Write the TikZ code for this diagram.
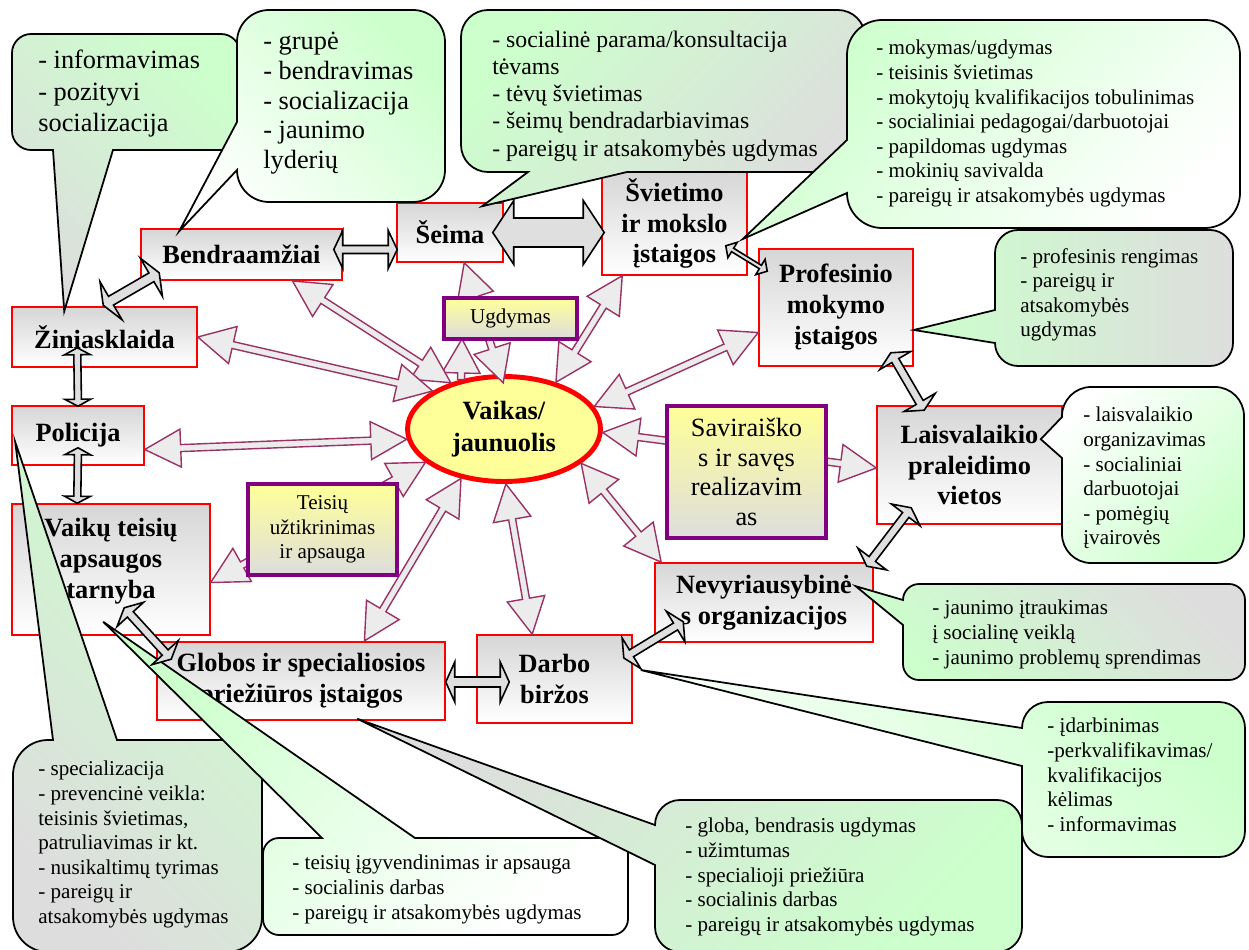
\documentclass[tikz,border=0pt]{standalone}
\usepackage{fontspec}
\setmainfont{Liberation Serif}
\usetikzlibrary{calc,shapes.geometric}

\definecolor{boxred}{RGB}{255,0,0}
\definecolor{boxpurple}{RGB}{128,0,128}
\definecolor{arrowplum}{RGB}{153,51,102}
\definecolor{lightyel}{RGB}{255,255,153}
\definecolor{callgreen}{RGB}{204,255,204}
\definecolor{callgray}{RGB}{221,221,221}
\definecolor{boxgray}{RGB}{214,214,214}

\tikzset{
    redbox/.style={draw=boxred, line width=0.9pt, top color=boxgray, bottom color=white,
        inner sep=0pt, align=center, font=\fontsize{15}{17.6}\selectfont\bfseries},
    purplebox/.style={draw=boxpurple, line width=2.3pt, top color=lightyel, bottom color=callgray,
        inner sep=0pt, align=center, font=\fontsize{12}{14}\selectfont},
    kidellipse/.style={ellipse, draw=boxred, line width=2.8pt, fill=lightyel, inner sep=0pt,
        align=center, font=\fontsize{15}{18}\selectfont\bfseries},
    plumarrow/.style={draw=arrowplum, fill=gray!15, line width=0.8pt},
    blkarrow/.style={draw=black, fill=gray!25, line width=0.9pt},
    callout/.style={draw=black, line width=1pt},
    calltext/.style={anchor=north west, inner sep=0pt, align=left,
        font=\fontsize{12}{14}\selectfont, execute at begin node=\rule{0pt}{0.7em}},
}

\begin{document}
\begin{tikzpicture}[x=0.02cm, y=-0.02cm]
            \useasboundingbox (0,0) rectangle (1249,950);
            \newcommand\dblarrow[6]{% {<from>}{<to>}{<shaft>}{<head>}{<head-length>}{<style>}
                \path #1 coordinate (arr-a) #2 coordinate (arr-b);
                \pgfpointdiff{\pgfpointanchor{arr-a}{center}}{\pgfpointanchor{arr-b}{center}}
                \pgfgetlastxy{\arrdx}{\arrdy}
                \pgfmathsetmacro\arrang{atan2(\arrdy,\arrdx)}
                \pgfmathsetmacro\arrlen{veclen(\arrdx,\arrdy)/0.569055}
                \draw[#6, shift={(arr-a)}, rotate=\arrang, x=0.02cm, y=0.02cm]
                    (0,0) -- (#5,#4) -- (#5,#3) -- (\arrlen-#5,#3) -- (\arrlen-#5,#4) -- (\arrlen,0)
                    -- (\arrlen-#5,-#4) -- (\arrlen-#5,-#3) -- (#5,-#3) -- (#5,-#4) -- cycle;
            }
            \newcommand\sglarrow[6]{% {<from>}{<to>}{<shaft>}{<head>}{<head-length>}{<style>}
                \path #1 coordinate (arr-a) #2 coordinate (arr-b);
                \pgfpointdiff{\pgfpointanchor{arr-a}{center}}{\pgfpointanchor{arr-b}{center}}
                \pgfgetlastxy{\arrdx}{\arrdy}
                \pgfmathsetmacro\arrang{atan2(\arrdy,\arrdx)}
                \pgfmathsetmacro\arrlen{veclen(\arrdx,\arrdy)/0.569055}
                \draw[#6, shift={(arr-a)}, rotate=\arrang, x=0.02cm, y=0.02cm]
                    (0,#3) -- (\arrlen-#5,#3) -- (\arrlen-#5,#4) -- (\arrlen,0)
                    -- (\arrlen-#5,-#4) -- (\arrlen-#5,-#3) -- (0,-#3) -- cycle;
            }
            \newcommand\calloutB[9]{% {<x1>}{<y1>}{<x2>}{<y2>}{<radius>}{<base-a>}{<base-b>}{<tip>}{<style>}
                \draw[#9] (#1+#5,#2) -- (#3-#5,#2) .. controls (#3-0.45*#5,#2) and (#3,#2+0.45*#5) .. (#3,#2+#5)
                    -- (#3,#4-#5) .. controls (#3,#4-0.45*#5) and (#3-0.45*#5,#4) .. (#3-#5,#4)
                    -- (#7,#4) -- #8 -- (#6,#4)
                    -- (#1+#5,#4) .. controls (#1+0.45*#5,#4) and (#1,#4-0.45*#5) .. (#1,#4-#5)
                    -- (#1,#2+#5) .. controls (#1,#2+0.45*#5) and (#1+0.45*#5,#2) .. (#1+#5,#2) -- cycle;
            }
            \newcommand\calloutL[9]{% {<x1>}{<y1>}{<x2>}{<y2>}{<radius>}{<base-a>}{<base-b>}{<tip>}{<style>}
                \draw[#9] (#1+#5,#2) -- (#3-#5,#2) .. controls (#3-0.45*#5,#2) and (#3,#2+0.45*#5) .. (#3,#2+#5)
                    -- (#3,#4-#5) .. controls (#3,#4-0.45*#5) and (#3-0.45*#5,#4) .. (#3-#5,#4)
                    -- (#1+#5,#4) .. controls (#1+0.45*#5,#4) and (#1,#4-0.45*#5) .. (#1,#4-#5)
                    -- (#1,#7) -- #8 -- (#1,#6)
                    -- (#1,#2+#5) .. controls (#1,#2+0.45*#5) and (#1+0.45*#5,#2) .. (#1+#5,#2) -- cycle;
            }
            \newcommand\calloutT[9]{% {<x1>}{<y1>}{<x2>}{<y2>}{<radius>}{<base-a>}{<base-b>}{<tip>}{<style>}
                \draw[#9] (#1+#5,#2) -- (#6,#2) -- #8 -- (#7,#2)
                    -- (#3-#5,#2) .. controls (#3-0.45*#5,#2) and (#3,#2+0.45*#5) .. (#3,#2+#5)
                    -- (#3,#4-#5) .. controls (#3,#4-0.45*#5) and (#3-0.45*#5,#4) .. (#3-#5,#4)
                    -- (#1+#5,#4) .. controls (#1+0.45*#5,#4) and (#1,#4-0.45*#5) .. (#1,#4-#5)
                    -- (#1,#2+#5) .. controls (#1,#2+0.45*#5) and (#1+0.45*#5,#2) .. (#1+#5,#2) -- cycle;
            }

            % institutions
            \node[redbox, minimum width=4.02cm, minimum height=1.02cm] (bendr) at (241.5,254.5) {Bendraamžiai};
            \node[redbox, minimum width=2.12cm, minimum height=1.18cm] (seima) at (450,232.5) {Šeima};
            \node[redbox, minimum width=2.90cm, minimum height=2.06cm] (svietimo) at (674.5,223.5) {Švietimo\\ir mokslo\\įstaigos};
            \node[redbox, minimum width=3.08cm, minimum height=2.34cm] (profes) at (836,307.5) {Profesinio\\mokymo\\įstaigos};
            \node[redbox, minimum width=3.70cm, minimum height=1.20cm] (zinias) at (104.5,337) {Žiniasklaida};
            \node[redbox, minimum width=2.64cm, minimum height=1.18cm] (polic) at (78,435.5) {Policija};
            \node[redbox, minimum width=3.96cm, minimum height=2.62cm, text depth=13pt] (vaikut) at (111,569.5) {Vaikų teisių\\apsaugos\\tarnyba};
            \node[redbox, minimum width=5.76cm, minimum height=1.56cm] (globos) at (301,681) {Globos ir specialiosios\\priežiūros įstaigos};
            \node[redbox, minimum width=3.10cm, minimum height=1.76cm] (darbo) at (554.5,679) {Darbo\\biržos};
            \node[redbox, minimum width=4.36cm, minimum height=1.58cm] (nevyr) at (764,602.5) {Nevyriausybinė\\s organizacijos};
            \node[redbox, minimum width=3.70cm, minimum height=2.36cm] (laisv) at (969.5,465) {Laisvalaikio\\praleidimo\\vietos};
            \node[kidellipse, minimum width=3.86cm, minimum height=2.10cm] (vaikas) at (504,429) {Vaikas/\\jaunuolis};

            % links to the child
            \coordinate (ugdtip) at (462,339);
            \sglarrow{(vaikas.131)}{(ugdtip)}{3.5}{19}{34}{plumarrow}
            \dblarrow{(vaikas.139)}{($(bendr.south west)+(152,0)$)}{3.5}{19}{36}{plumarrow}
            \dblarrow{($(vaikas.center)!0.84!(vaikas.91)$)}{($(seima.south west)+(68,0)$)}{3.5}{19}{36}{plumarrow}
            \dblarrow{(vaikas.152)}{(zinias.east)}{3.5}{19}{36}{plumarrow}
            \dblarrow{(vaikas.186)}{($(polic.east)+(0,14)$)}{3.5}{19}{36}{plumarrow}
            \dblarrow{(vaikas.203)}{($(vaikut.east)+(0,13)$)}{3.5}{19}{36}{plumarrow}
            \dblarrow{(vaikas.229)}{($(globos.north west)+(208,0)$)}{3.5}{19}{36}{plumarrow}
            \dblarrow{(vaikas.272)}{($(darbo.north west)+(56,0)$)}{3.5}{19}{36}{plumarrow}
            \dblarrow{(vaikas.336)}{($(nevyr.north west)+(7,0)$)}{3.5}{19}{36}{plumarrow}
            \dblarrow{(vaikas.358)}{($(laisv.west)+(0,3)$)}{3.5}{19}{36}{plumarrow}
            \dblarrow{(vaikas.14)}{($(profes.west)+(0,25)$)}{3.5}{19}{36}{plumarrow}
            \dblarrow{(vaikas.42)}{($(svietimo.south west)+(21,0)$)}{3.5}{19}{36}{plumarrow}

            \node[purplebox, minimum width=2.66cm, minimum height=0.82cm] (ugdym) at (510.5,318.5) {Ugdymas};
            \node[purplebox, minimum width=2.98cm, minimum height=1.82cm] (teisiu) at (322.5,529.5) {Teisių\\užtikrinimas\\ir apsauga};
            \node[purplebox, minimum width=3.18cm, minimum height=2.64cm, font=\fontsize{15}{17}\selectfont] (savir) at (746.5,472) {Saviraiško\\s ir savęs\\realizavim\\as};

            % callouts
            \calloutB{12}{34}{240}{150}{19}{53}{113}{($(zinias.north west)+(53,5)$)}{callout, top color=callgreen, bottom color=callgray, shading angle=-45}
            \node[calltext, font=\fontsize{15}{18}\selectfont] (txtinfo) at (38,49.5) {- informavimas\\- pozityvi\\socializacija};
            \calloutL{237}{10}{445}{202}{32}{122}{170}{($(bendr.north west)+(39,3)$)}{callout, top color=callgreen, bottom color=white, shading angle=-45}
            \node[calltext, font=\fontsize{15}{17}\selectfont] (txtgrupe) at (263,31.5) {- grupė\\- bendravimas\\- socializacija\\- jaunimo\\lyderių};
            \calloutB{461}{10}{865}{172}{27}{528}{627}{($(seima.north west)+(86,4)$)}{callout, top color=callgreen, bottom color=callgray, shading angle=45}
            \node[calltext, font=\fontsize{13.5}{15.5}\selectfont] (txtseima) at (492,30.4) {- socialinė parama/konsultacija\\tėvams\\- tėvų švietimas\\- šeimų bendradarbiavimas\\- pareigų ir atsakomybės ugdymas};
            \calloutL{847}{20}{1240}{228}{35}{140}{193}{($(svietimo.east)+(-5,15.5)$)}{callout, top color=callgreen, bottom color=white, shading angle=45}
            \node[calltext] (txtmokym) at (876,40) {- mokymas/ugdymas\\- teisinis švietimas\\- mokytojų kvalifikacijos tobulinimas\\- socialiniai pedagogai/darbuotojai\\- papildomas ugdymas\\- mokinių savivalda\\- pareigų ir atsakomybės ugdymas};
            \calloutL{995}{230}{1233}{366}{23}{310}{343}{($(profes.east)+(0,22.5)$)}{callout, top color=callgreen, bottom color=callgray, shading angle=90}
            \node[calltext] (txtprof) at (1020,248) {- profesinis rengimas\\- pareigų ir\\atsakomybės\\ugdymas};
            \calloutL{1062}{387}{1244}{563}{29}{417}{458}{($(laisv.north east)+(-22,34)$)}{callout, top color=white, bottom color=callgreen, shading angle=45}
            \node[calltext] (txtlaisv) at (1083,407) {- laisvalaikio\\organizavimas\\- socialiniai\\darbuotojai\\- pomėgių\\įvairovės};
            \calloutL{903}{584}{1245}{680}{16}{600}{625}{($(nevyr.north east)+(-18,24)$)}{callout, top color=callgray, bottom color=callgreen, shading angle=-45}
            \node[calltext] (txtnevyr) at (932,600) {- jaunimo įtraukimas\\į socialinę veiklą\\- jaunimo problemų sprendimas};
            \calloutL{1022}{702}{1245}{857}{26}{728}{766}{($(darbo.east)+(8,-9)$)}{callout, top color=callgreen, bottom color=white, shading angle=-45}
            \node[calltext] (txtdarbo) at (1047,718) {- įdarbinimas\\-perkvalifikavimas/\\kvalifikacijos\\kėlimas\\- informavimas};
            \calloutT{13}{740}{262}{952}{35}{53}{117}{($(polic.west)+(4,6.5)$)}{callout, top color=callgreen, bottom color=callgray, shading angle=-45}
            \node[calltext] (txtpolic) at (38,761) {- specializacija\\- prevencinė veikla:\\teisinis švietimas,\\patruliavimas ir kt.\\- nusikaltimų tyrimas\\- pareigų ir\\atsakomybės ugdymas};
            \calloutT{263}{838}{628}{935}{16}{322}{415}{($(vaikut.south west)+(92,-14)$)}{callout, top color=callgreen, bottom color=white, shading angle=45}
            \node[calltext] (txtvaikut) at (292,855) {- teisių įgyvendinimas ir apsauga\\- socialinis darbas\\- pareigų ir atsakomybės ugdymas};
            \calloutL{655}{800}{1022}{952}{25}{825}{865}{($(globos.south west)+(201,-2)$)}{callout, top color=callgray, bottom color=callgreen, shading angle=45}
            \node[calltext] (txtglobos) at (685,818) {- globa, bendrasis ugdymas\\- užimtumas\\- specialioji priežiūra\\- socialinis darbas\\- pareigų ir atsakomybės ugdymas};

            % links between institutions
            \dblarrow{($(bendr.east)+(-9,-5)$)}{($(seima.west)+(1,17)$)}{4}{19}{9}{blkarrow}
            \dblarrow{($(seima.east)+(-11,0)$)}{($(svietimo.west)+(3,9)$)}{14.5}{32}{21}{blkarrow}
            \dblarrow{($(svietimo.south east)+(-22,-30)$)}{($(profes.north west)+(9,23)$)}{2}{9}{8}{blkarrow}
            \dblarrow{($(profes.south east)+(-23,-14)$)}{($(laisv.north west)+(48,5)$)}{4}{18}{9}{blkarrow}
            \dblarrow{($(laisv.south west)+(35,-17)$)}{($(nevyr.north east)+(-7,4)$)}{4}{18}{9}{blkarrow}
            \dblarrow{($(nevyr.south west)+(29,-21)$)}{($(darbo.east)+(-9,-21)$)}{4}{18}{9}{blkarrow}
            \dblarrow{($(globos.east)+(0,1)$)}{($(darbo.west)+(33,3)$)}{5}{20}{9}{blkarrow}
            \dblarrow{($(vaikut.south west)+(113,-28)$)}{($(globos.north west)+(15,18)$)}{4}{18}{9}{blkarrow}
            \dblarrow{($(polic.south)+(0,-18)$)}{($(vaikut.north west)+(66,0)$)}{3.5}{13}{7}{blkarrow}
            \dblarrow{($(zinias.south west)+(66,-20)$)}{($(polic.north)+(0,1)$)}{3.5}{13}{7}{blkarrow}
            \dblarrow{($(zinias.north west)+(92,-1)$)}{($(bendr.south west)+(19,-8)$)}{5}{22}{9}{blkarrow}
        \end{tikzpicture}
\end{document}
